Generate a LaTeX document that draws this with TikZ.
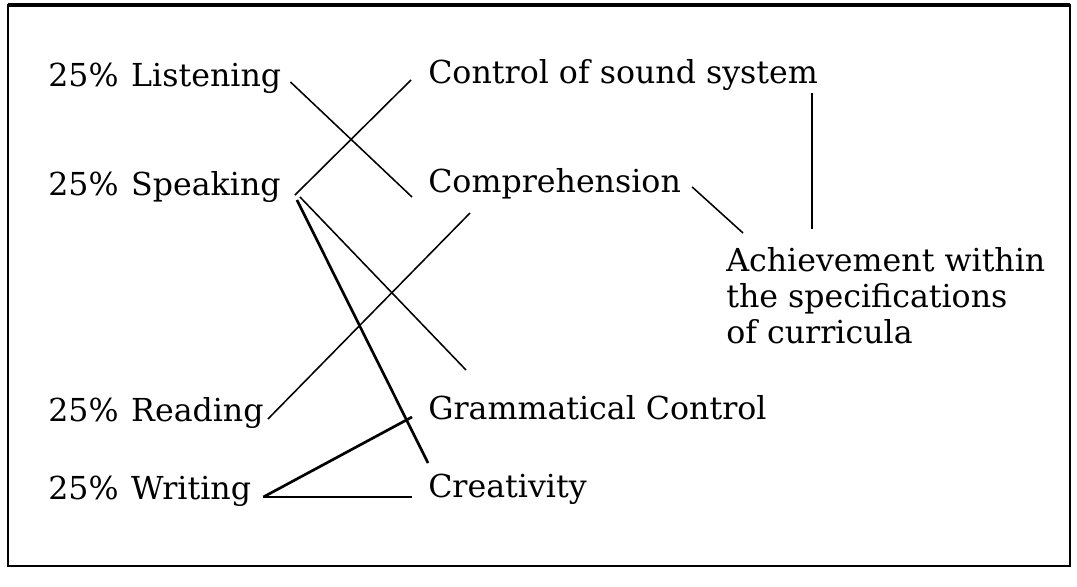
\documentclass[tikz,border=0pt]{standalone}
\usepackage{fontspec}
\setmainfont{DejaVu Serif}
\begin{document}
\begin{tikzpicture}[x=0.025cm,y=-0.025cm,
  lbl/.style={anchor=base west,inner sep=0pt,font=\fontsize{22.5}{25.5}\selectfont},
  link/.style={line width=1.1pt},
  boldlink/.style={line width=1.9pt}]
\useasboundingbox (0,0) rectangle (1077,586);
\draw[line width=1.4pt] (8,5) rectangle (1070,566);
\draw[line width=2.6pt] (8,5) -- (1070,5);

% skills, left column
\node[lbl] (listen) at (48,86)  {25\%\hspace{0.4em}Listening};
\node[lbl] (speak)  at (48,195) {25\%\hspace{0.4em}Speaking};
\node[lbl] (read)   at (48,421) {25\%\hspace{0.4em}Reading};
\node[lbl] (write)  at (48,499) {25\%\hspace{0.4em}Writing};

% components, middle column
\node[lbl] (ctrl)  at (428,83)  {Control of sound system};
\node[lbl] (compr) at (428,192) {Comprehension};
\node[lbl] (gram)  at (428,419) {Grammatical Control};
\node[lbl] (crea)  at (428,497) {Creativity};

\node[lbl,anchor=north west,align=left] (achv) at (726,247)
  {Achievement within\\the specifications\\of curricula};

% connectors
\draw[link] ([shift={(9,-4)}]listen.base east) -- ([shift={(-16,5)}]compr.base west);
\draw[link] ([shift={(-17,-3)}]ctrl.base west) -- ([shift={(14,0)}]speak.base east);
\draw[link] ([shift={(19,2)}]speak.base east) -- ([shift={(38,-49)}]gram.base west);
\draw[boldlink] ([shift={(16,5)}]speak.base east) -- ([shift={(0,-34)}]crea.base west);
\draw[link] ([shift={(4,-2)}]read.base east) -- ([shift={(42,21)}]compr.base west);
\draw[boldlink] ([shift={(12,-2)}]write.base east) -- ([shift={(-16,-2)}]gram.base west);
\draw[boldlink] ([shift={(12,-2)}]write.base east) -- ([shift={(-16,0)}]crea.base west);
\draw[link] ([shift={(11,-5)}]compr.base east) -- ([shift={(17,-14)}]achv.north west);
\coordinate (vbot) at ([shift={(86,-18)}]achv.north west);
\coordinate (vtop) at (vbot |- ctrl.south);
\draw[link] ([shift={(0,3)}]vtop) -- (vbot);
\end{tikzpicture}
\end{document}
